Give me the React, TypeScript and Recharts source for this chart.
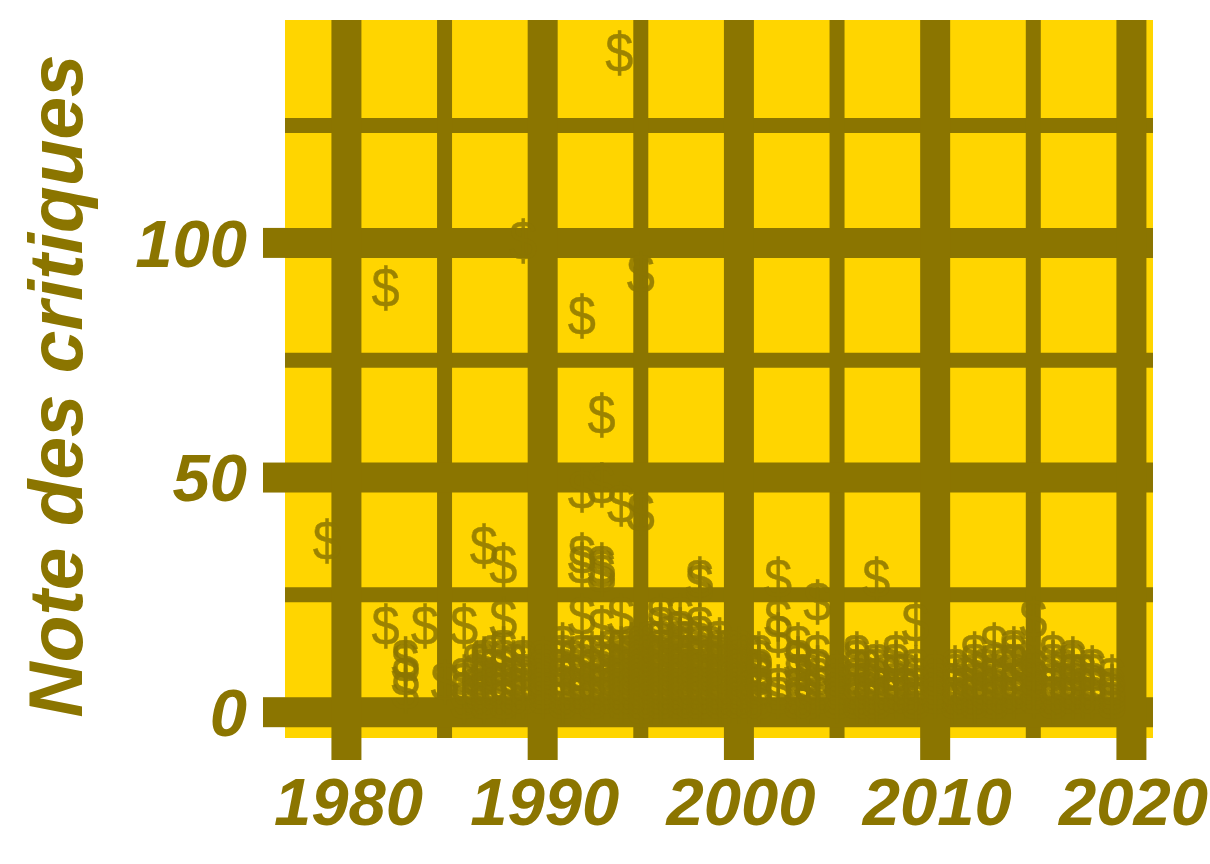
import React from 'react';
import { CartesianGrid, Scatter, ScatterChart, XAxis, YAxis } from 'recharts';

const INK = '#8B7500';
const PANEL = '#FFD500';

const xTicks = [1980, 1990, 2000, 2010, 2020];
const xMinor = [1985, 1995, 2005, 2015];
const yTicks = [0, 50, 100];
const yMinor = [25, 75, 125];

// [year, critic scores]
const scores1980s: [number, number[]][] = [
  [1979, [36]],
  [1982, [90, 18]],
  [1983, [11, 10, 7, 4]],
  [1984, [18]],
  [1985, [6]],
  [1986, [18, 7, 6, 4, 2]],
  [1986.6, [10, 8, 5, 3]],
  [1987, [35, 11, 10, 9, 7, 5, 4, 2]],
  [1987.5, [12, 9, 6, 4]],
  [1988, [31, 19.5, 13, 11, 9, 6, 4, 2]],
  [1988.5, [10, 7, 5, 3]],
  [1989, [100, 11, 10, 8, 6, 5, 3]],
];
const scores1990s: [number, number[]][] = [
  [1990, [11, 9, 7, 5, 4, 3]],
  [1991, [14, 12, 11, 9, 7, 5, 3, 2]],
  [1991.5, [11, 8, 5, 3]],
  [1992, [84, 47, 33, 31, 20, 12, 10, 8, 6, 4, 3]],
  [1992.5, [12, 9, 6, 4, 2]],
  [1993, [63, 48, 31, 30, 29, 17.5, 12, 10, 8, 6, 5, 3]],
  [1993.5, [13, 10, 7, 5, 3]],
  [1993.9, [140]],
  [1994, [44, 20, 13, 12, 11, 10, 9, 8, 7, 6, 5, 4, 3, 2]],
  [1994.5, [14, 12, 9, 7, 5, 3]],
  [1995, [93, 42, 14, 13, 12, 11, 10, 9, 8, 7, 6, 5, 4, 3, 2, 1]],
  [1995.5, [15, 12, 9, 6, 4, 2]],
  [1996, [20, 18, 15, 13, 12, 11, 10, 9, 8, 7, 6, 5, 4, 3, 2]],
  [1996.5, [16, 13, 10, 7, 5, 3]],
  [1997, [20, 17, 15, 14, 12, 11, 10, 9, 8, 7, 6, 5, 4, 3, 2]],
  [1997.5, [15, 12, 9, 6, 4, 2]],
  [1998, [28, 27, 18, 16, 14, 12, 11, 10, 9, 8, 7, 6, 5, 4, 3, 2]],
  [1998.5, [14, 11, 8, 5, 3]],
  [1999, [15, 13, 12, 11, 10, 9, 8, 7, 6, 5, 4, 3, 2]],
  [1999.5, [13, 10, 7, 4, 2]],
];
const scores2000s: [number, number[]][] = [
  [2000, [13, 12, 11, 10, 9, 8, 7, 6, 5, 4, 3, 2]],
  [2000.5, [12, 9, 6, 4, 2]],
  [2001, [12, 11, 9, 8, 7, 5, 4, 2]],
  [2002, [28, 19.5, 16, 5, 3]],
  [2003, [14, 11, 10, 8, 5, 3, 2]],
  [2003.5, [8, 6, 4, 2]],
  [2004, [23, 12, 9, 7, 5, 3]],
  [2005, [8, 6, 4, 3, 2]],
  [2006, [12, 11, 9, 7, 6, 4, 3, 2]],
  [2006.5, [9, 6, 4, 2]],
  [2007, [28, 10, 9, 7, 5, 3, 2]],
  [2007.5, [8, 5, 3]],
  [2008, [12, 10, 8, 6, 4, 3]],
  [2008.5, [8, 5, 3]],
  [2009, [18.5, 9, 7, 5, 3, 2]],
];
const scores2010s: [number, number[]][] = [
  [2010, [8, 6, 4, 3]],
  [2011, [9, 8, 6, 5, 3, 2]],
  [2011.5, [7, 5, 3]],
  [2012, [12, 10, 8, 6, 4, 3, 2]],
  [2012.5, [9, 6, 4]],
  [2013, [14, 10, 8, 7, 5, 3, 2]],
  [2013.5, [9, 6, 3]],
  [2014, [13, 12, 10, 8, 6, 4, 3]],
  [2014.5, [10, 7, 4]],
  [2015, [19.5, 9, 7, 5, 3]],
  [2016, [12, 10, 8, 6, 5, 3, 2]],
  [2016.5, [9, 6, 3]],
  [2017, [11, 10, 8, 6, 4, 3]],
  [2017.5, [8, 5, 3]],
  [2018, [9, 8, 6, 5, 3]],
  [2019, [7, 5, 4, 3, 2]],
];

const points = [...scores1980s, ...scores1990s, ...scores2000s, ...scores2010s].flatMap(([year, list]) =>
  list.map(score => ({ year, score }))
);

const tickStyle = {
  fontFamily: '"Liberation Sans", Arial, sans-serif',
  fontWeight: 700,
  fontStyle: 'italic',
  fontSize: 67,
  fill: INK,
};

function Dollar(props: any) {
  return (
    <text
      transform={`translate(${props.cx} ${props.cy}) scale(0.92 1)`}
      dy="0.31em"
      textAnchor="middle"
      fontFamily='"Liberation Sans", Arial, sans-serif'
      fontSize={55}
      fill={INK}
      stroke={INK}
      strokeWidth={0.4}
      opacity={0.85}
    >
      $
    </text>
  );
}

export default function App() {
  return (
    <div style={{ position: 'absolute', left: 0, top: 0, width: 1210, height: 864 }}>
      <ScatterChart width={1210} height={864} margin={{ top: 20, right: 57, bottom: 0, left: 0 }}>
        <CartesianGrid
          fill={PANEL}
          fillOpacity={1}
          stroke={INK}
          strokeWidth={15}
          verticalValues={xMinor}
          horizontalValues={yMinor}
          syncWithTicks={false}
        />
        <CartesianGrid
          stroke={INK}
          strokeWidth={30}
          verticalValues={xTicks}
          horizontalValues={yTicks}
          syncWithTicks={false}
        />
        <XAxis
          type="number"
          dataKey="year"
          domain={[1976.87, 2021.1]}
          ticks={xTicks}
          allowDataOverflow
          height={126}
          axisLine={false}
          tickSize={22}
          tickMargin={17}
          tickLine={{ stroke: INK, strokeWidth: 30 }}
          tick={{ ...tickStyle, dx: 2 }}
        />
        <YAxis
          type="number"
          dataKey="score"
          domain={[-5.5, 147.5]}
          ticks={yTicks}
          allowDataOverflow
          width={285}
          axisLine={false}
          tickSize={22}
          tickMargin={16}
          tickLine={{ stroke: INK, strokeWidth: 30 }}
          tick={tickStyle}
          label={{
            value: 'Note des critiques',
            angle: -90,
            position: 'insideLeft',
            dx: 50,
            dy: 7,
            style: { ...tickStyle, fontSize: 76.5, textAnchor: 'middle' },
          }}
        />
        <Scatter data={points} shape={Dollar} isAnimationActive={false} />
      </ScatterChart>
    </div>
  );
}
